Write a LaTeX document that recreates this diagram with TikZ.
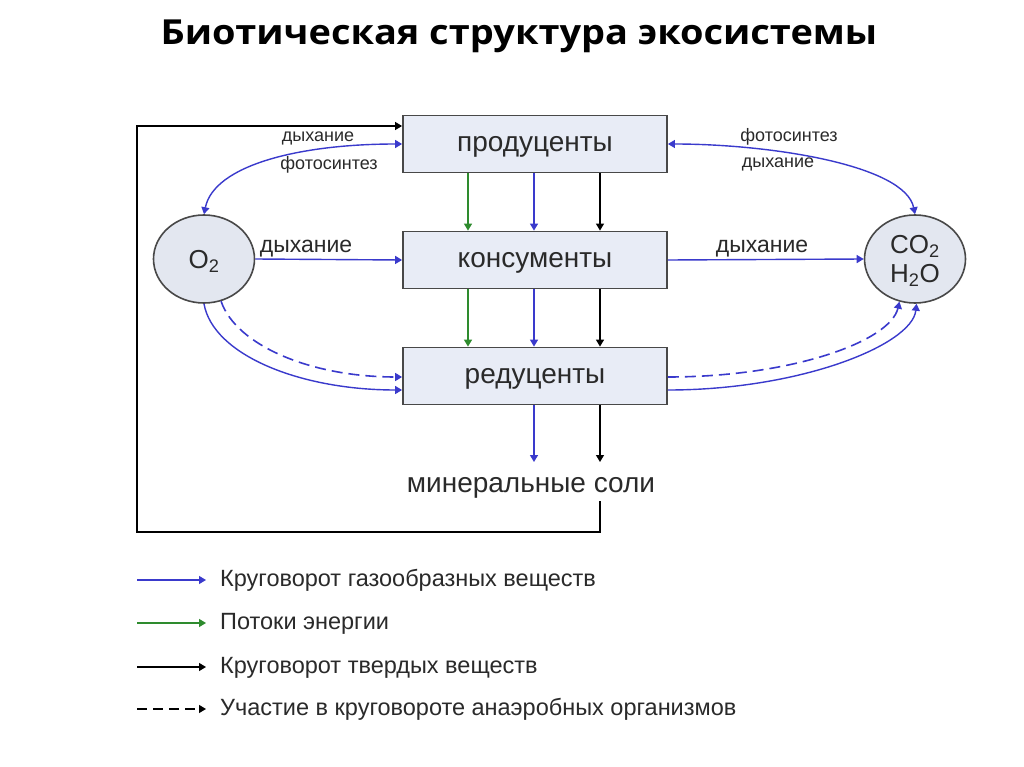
\documentclass[tikz,border=0pt]{standalone}
\usepackage{graphicx}
\usepackage{fontspec}
\setmainfont{Liberation Sans}
\newfontfamily\titlefont{Open Sans}
\usetikzlibrary{arrows.meta,shapes.geometric,calc}
\definecolor{boxfill}{HTML}{E8ECF6}
\definecolor{circfill}{HTML}{E3E7F0}
\definecolor{edge}{HTML}{484848}
\definecolor{gasblue}{HTML}{3A3ACC}
\definecolor{energygreen}{HTML}{2E8B2E}
\definecolor{txt}{HTML}{2A2A2A}
\tikzset{
  tip/.style={-{Triangle[width=8pt,length=7pt]}},
  tips/.style={{Triangle[width=8pt,length=7pt]}-{Triangle[width=8pt,length=7pt]}},
  gas/.style={draw=gasblue,line width=1.4pt,fill=none},
  energy/.style={draw=energygreen,line width=1.4pt},
  solid/.style={draw=black,line width=1.3pt},
  anaer/.style={draw=gasblue,line width=1.6pt,dash pattern=on 11pt off 6pt},
  orgbox/.style={draw=edge,line width=1.8pt,fill=boxfill,minimum width=264pt,minimum height=57pt,inner sep=0pt,text=txt,text height=14.5pt,text depth=0pt,font=\fontsize{28}{32}\selectfont},
  pool/.style={ellipse,draw=edge,line width=1.6pt,fill=circfill,minimum width=101pt,minimum height=88pt,inner sep=0pt},
  poollab/.style={inner sep=0pt,text=txt,font=\fontsize{26}{30}\selectfont},
  lab/.style={text=txt,inner sep=0pt,text height=9.3pt,text depth=0pt,font=\fontsize{18}{21}\selectfont},
  midlab/.style={text=txt,inner sep=0pt,text height=11.9pt,text depth=0pt,font=\fontsize{23}{26}\selectfont},
  leglab/.style={text=txt,inner sep=0pt,text height=12.2pt,text depth=0pt,anchor=west,font=\fontsize{23.5}{27}\selectfont},
}
\begin{document}
\begin{tikzpicture}[x=1pt,y=-1pt]
\useasboundingbox (0,0) rectangle (1024,767);
\fill[white] (0,0) rectangle (1024,767);

% title
\node[inner sep=0pt,anchor=base,font=\titlefont\bfseries\fontsize{34.5}{38}\selectfont] (title) at (519,45) {\scalebox{1.1}[1]{Биотическая структура экосистемы}};

% boxes
\node[orgbox] (prod) at (535,144) {продуценты};
\node[orgbox] (kons) at (535,260) {консументы};
\node[orgbox] (red) at (535,376) {редуценты};

% pools
\node[pool] (o2) at (204,259) {};
\node[poollab] (o2t) at (204,261) {O\textsubscript{2}};
\node[pool] (co2) at (915,259) {};
\node[poollab] (co2t) at (915,246) {CO\textsubscript{2}};
\node[poollab] (h2ot) at (915,275) {H\textsubscript{2}O};

\node[inner sep=0pt,text=txt,text height=14.5pt,text depth=0pt,font=\fontsize{28}{32}\selectfont] (min) at (531,485) {минеральные соли};

% x positions of vertical arrows
\coordinate (xg) at (468,0);
\coordinate (xbl) at (534,0);
\coordinate (xk) at (600,0);

% vertical arrows
\draw[energy,tip] (prod.south -| xg) -- (kons.north -| xg);
\draw[gas,tip] (prod.south -| xbl) -- (kons.north -| xbl);
\draw[solid,tip] (prod.south -| xk) -- (kons.north -| xk);
\draw[energy,tip] (kons.south -| xg) -- (red.north -| xg);
\draw[gas,tip] (kons.south -| xbl) -- (red.north -| xbl);
\draw[solid,tip] (kons.south -| xk) -- (red.north -| xk);
\coordinate (minend) at (0,462);
\draw[gas,tip] (red.south -| xbl) -- (minend -| xbl);
\draw[solid,tip] (red.south -| xk) -- (minend -| xk);

% feedback loop
\coordinate (c1) at (600,532);
\coordinate (c2) at (137,532);
\coordinate (c3) at (137,126);
\coordinate (minstart) at (600,501);
\draw[solid,tip] (minstart) -- (c1) -- (c2) -- (c3) -- (c3 -| prod.west);

% gas arcs top
\draw[gas,tips] (o2.north) .. controls (214,165) and (300,144) .. (prod.west);
\draw[gas,tips] (prod.east) .. controls (770,144) and (905,165) .. (co2.north);
\node[lab] (l1) at (318,137) {дыхание};
\node[lab] (l2) at (329,165) {фотосинтез};
\node[lab] (l3) at (789,137) {фотосинтез};
\node[lab] (l4) at (778,163) {дыхание};

% middle arrows
\draw[gas,tip] (o2.east) -- (kons.west);
\draw[gas,tip] (kons.east) -- (co2.west);
\node[midlab] (l5) at (306,247) {дыхание};
\node[midlab] (l6) at (762,247) {дыхание};

% bottom arcs
\draw[gas,tip] (o2.-90) .. controls (213,355) and (300,390) .. ([yshift=-14pt]red.west);
\draw[anaer,tip] (o2.-68) .. controls (236,345) and (310,377) .. ([yshift=-1pt]red.west);
\draw[anaer,tip] ([yshift=-1pt]red.east) .. controls (790,377) and (890,342) .. (co2.-110);
\draw[gas,tip] ([yshift=-14pt]red.east) .. controls (800,390) and (912,345) .. (co2.-88);

% legend
\coordinate (a1) at (137,580); \coordinate (b1) at (206,580);
\coordinate (a2) at (137,623); \coordinate (b2) at (206,623);
\coordinate (a3) at (137,667); \coordinate (b3) at (206,667);
\coordinate (a4) at (137,709); \coordinate (b4) at (206,709);
\draw[gas,line width=1.2pt,tip] (a1) -- (b1);
\draw[energy,line width=1.2pt,tip] (a2) -- (b2);
\draw[solid,line width=1.2pt,tip] (a3) -- (b3);
\draw[draw=black,line width=1.3pt,dash pattern=on 10pt off 6pt,tip] (a4) -- (b4);
\node[leglab] (t1) at (220,580) {Круговорот газообразных веществ};
\node[leglab] (t2) at (220,623) {Потоки энергии};
\node[leglab] (t3) at (220,667) {Круговорот твердых веществ};
\node[leglab] (t4) at (220,709) {Участие в круговороте анаэробных организмов};
\end{tikzpicture}
\end{document}
